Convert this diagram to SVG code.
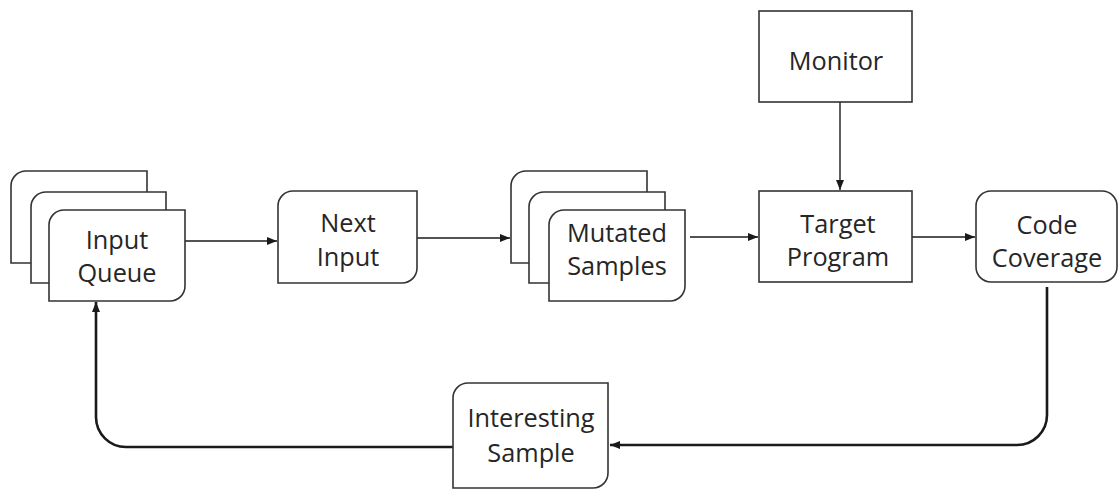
<svg xmlns="http://www.w3.org/2000/svg" width="1119" height="491" viewBox="0 0 1119 491">
  <style>
    .box { fill: #ffffff; stroke: #333333; stroke-width: 1.6; }
    .lbl { font-family: "Open Sans", "Liberation Sans", sans-serif; font-size: 25.3px; fill: #262626; text-anchor: middle; }
    .wire { fill: none; stroke: #1a1a1a; stroke-width: 1.4; }
    .loop { fill: none; stroke: #1a1a1a; stroke-width: 2.6; }
  </style>
  <defs>
    <marker id="arrow" viewBox="0 0 10 8" refX="10" refY="4" markerWidth="10" markerHeight="8" markerUnits="userSpaceOnUse" orient="auto">
      <path d="M0,0 L10,4 L0,8 Z" fill="#1a1a1a"/>
    </marker>
  </defs>
  <rect width="1119" height="491" fill="#ffffff"/>

  <!-- connectors -->
  <g id="connectors">
    <path class="wire" d="M185,241 H277" marker-end="url(#arrow)"/>
    <path class="wire" d="M417,238 H510" marker-end="url(#arrow)"/>
    <path class="wire" d="M690,237 H758" marker-end="url(#arrow)"/>
    <path class="wire" d="M912,237 H975" marker-end="url(#arrow)"/>
    <path class="wire" d="M840,102 V190" marker-end="url(#arrow)"/>
    <path class="loop" d="M1047,287 V415 A30,30 0 0 1 1017,445 H610" marker-end="url(#arrow)"/>
    <path class="loop" d="M453,447 H127 A30,30 0 0 1 96,417 V302" marker-end="url(#arrow)"/>
  </g>

  <!-- stacked input queue -->
  <g id="input-queue">
    <path class="box" d="M11,186 A15,15 0 0 1 26,171 H147 V248 A15,15 0 0 1 132,263 H11 Z"/>
    <path class="box" d="M31,207 A15,15 0 0 1 46,192 H166 V268 A15,15 0 0 1 151,283 H31 Z"/>
    <path class="box" d="M49,225 A15,15 0 0 1 64,210 H185 V286 A15,15 0 0 1 170,301 H49 Z"/>
    <text class="lbl" x="117" y="249">Input</text>
    <text class="lbl" x="117" y="282">Queue</text>
  </g>

  <g id="next-input">
    <path class="box" d="M278,206 A15,15 0 0 1 293,191 H417 V268 A15,15 0 0 1 402,283 H278 Z"/>
    <text class="lbl" x="348" y="232">Next</text>
    <text class="lbl" x="348" y="266">Input</text>
  </g>

  <!-- stacked mutated samples -->
  <g id="mutated-samples">
    <path class="box" d="M511,186 A15,15 0 0 1 526,171 H647 V248 A15,15 0 0 1 632,263 H511 Z"/>
    <path class="box" d="M529,207 A15,15 0 0 1 544,192 H665 V268 A15,15 0 0 1 650,283 H529 Z"/>
    <path class="box" d="M549,225 A15,15 0 0 1 564,210 H685 V286 A15,15 0 0 1 670,301 H549 Z"/>
    <text class="lbl" x="617" y="242">Mutated</text>
    <text class="lbl" x="617" y="275">Samples</text>
  </g>

  <g id="monitor">
    <rect class="box" x="759" y="11" width="153" height="91"/>
    <text class="lbl" x="836" y="70">Monitor</text>
  </g>

  <g id="target-program">
    <rect class="box" x="759" y="191" width="153" height="91"/>
    <text class="lbl" x="838" y="233">Target</text>
    <text class="lbl" x="838" y="266">Program</text>
  </g>

  <g id="code-coverage">
    <rect class="box" x="976" y="191" width="141" height="91" rx="15" ry="15"/>
    <text class="lbl" x="1047" y="234">Code</text>
    <text class="lbl" x="1047" y="267">Coverage</text>
  </g>

  <g id="interesting-sample">
    <path class="box" d="M453,398 A15,15 0 0 1 468,383 H608 V473 A15,15 0 0 1 593,488 H453 Z"/>
    <text class="lbl" x="531" y="427">Interesting</text>
    <text class="lbl" x="531" y="462">Sample</text>
  </g>
</svg>
